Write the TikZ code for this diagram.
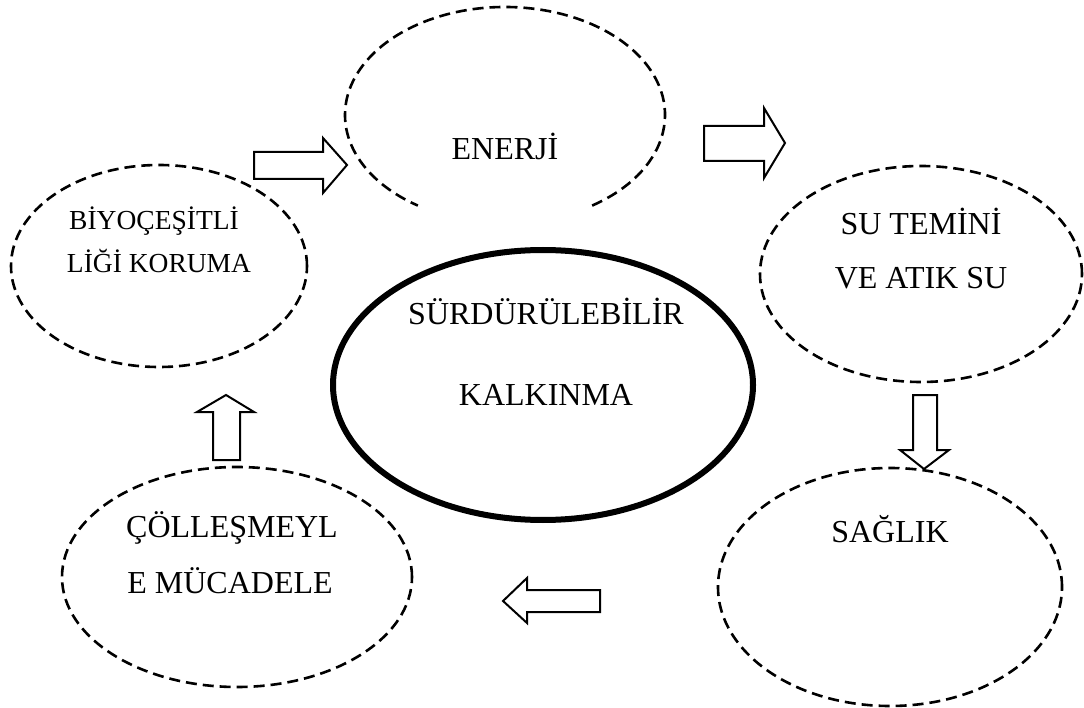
\documentclass[tikz,border=0pt]{standalone}
\usepackage{fontspec}
\setmainfont{Liberation Serif}
\usetikzlibrary{shapes.geometric}
\begin{document}
\begin{tikzpicture}[x=1pt,y=-1pt,
  dashline/.style={draw=black, line width=2.6pt, dash pattern=on 11pt off 6pt},
  dashell/.style={dashline, ellipse, inner sep=0pt},
  thickell/.style={draw=black, ellipse, line width=6pt, inner sep=0pt},
  lbl/.style={anchor=base, inner sep=0pt, font=\fontsize{32}{38}\selectfont},
  slbl/.style={anchor=base, inner sep=0pt, font=\fontsize{27.5}{33}\selectfont},
  blockarrow/.style={draw=black, line width=2pt, line join=miter, fill=white}]
\useasboundingbox (0,0) rectangle (1084,708);
% ellipses
\node[ellipse, inner sep=0pt, minimum width=320pt, minimum height=216pt] (enerji) at (505,115) {};
\draw[dashline] (enerji.center) ++(-57:160pt and 108pt)
  arc[start angle=-57, end angle=237, x radius=160pt, y radius=108pt];
\node[dashell, minimum width=296pt, minimum height=202pt] (biyo) at (159,266) {};
\node[dashell, minimum width=322pt, minimum height=216pt] (su) at (921,274) {};
\node[thickell, minimum width=420pt, minimum height=270pt] (sk) at (543,385) {};
\node[dashell, minimum width=350pt, minimum height=220pt] (col) at (237,577) {};
\node[dashell, minimum width=344pt, minimum height=238pt] (saglik) at (890,587) {};
% texts
\node[lbl] (tEnerji) at (505,160) {ENERJİ};
\node[slbl] (tBiyo1) at (154,230) {BİYOÇEŞİTLİ};
\node[slbl] (tBiyo2) at (159,273) {LİĞİ KORUMA};
\node[lbl] (tSu1) at (921,235) {SU TEMİNİ};
\node[lbl] (tSu2) at (921,289) {VE ATIK SU};
\node[lbl] (tSk1) at (546,325) {SÜRDÜRÜLEBİLİR};
\node[lbl] (tSk2) at (546,406) {KALKINMA};
\node[lbl] (tCol1) at (232,537) {ÇÖLLEŞMEYL};
\node[lbl] (tCol2) at (230,593) {E MÜCADELE};
\node[lbl] (tSag) at (890,542) {SAĞLIK};
% block arrows
\draw[blockarrow] (254,152) -- (323,152) -- (323,138) -- (347,165) -- (323,193) -- (323,179) -- (254,179) -- cycle;
\draw[blockarrow] (704,126) -- (764,126) -- (764,108) -- (785,143) -- (764,178) -- (764,161) -- (704,161) -- cycle;
\draw[blockarrow] (913,395) -- (937,395) -- (937,450) -- (949,450) -- (924,469) -- (900,450) -- (913,450) -- cycle;
\draw[blockarrow] (600,590) -- (527,590) -- (527,578) -- (503,601) -- (527,623) -- (527,612) -- (600,612) -- cycle;
\draw[blockarrow] (213,460) -- (213,412) -- (197,412) -- (226,395) -- (254,412) -- (240,412) -- (240,460) -- cycle;
\end{tikzpicture}
\end{document}
